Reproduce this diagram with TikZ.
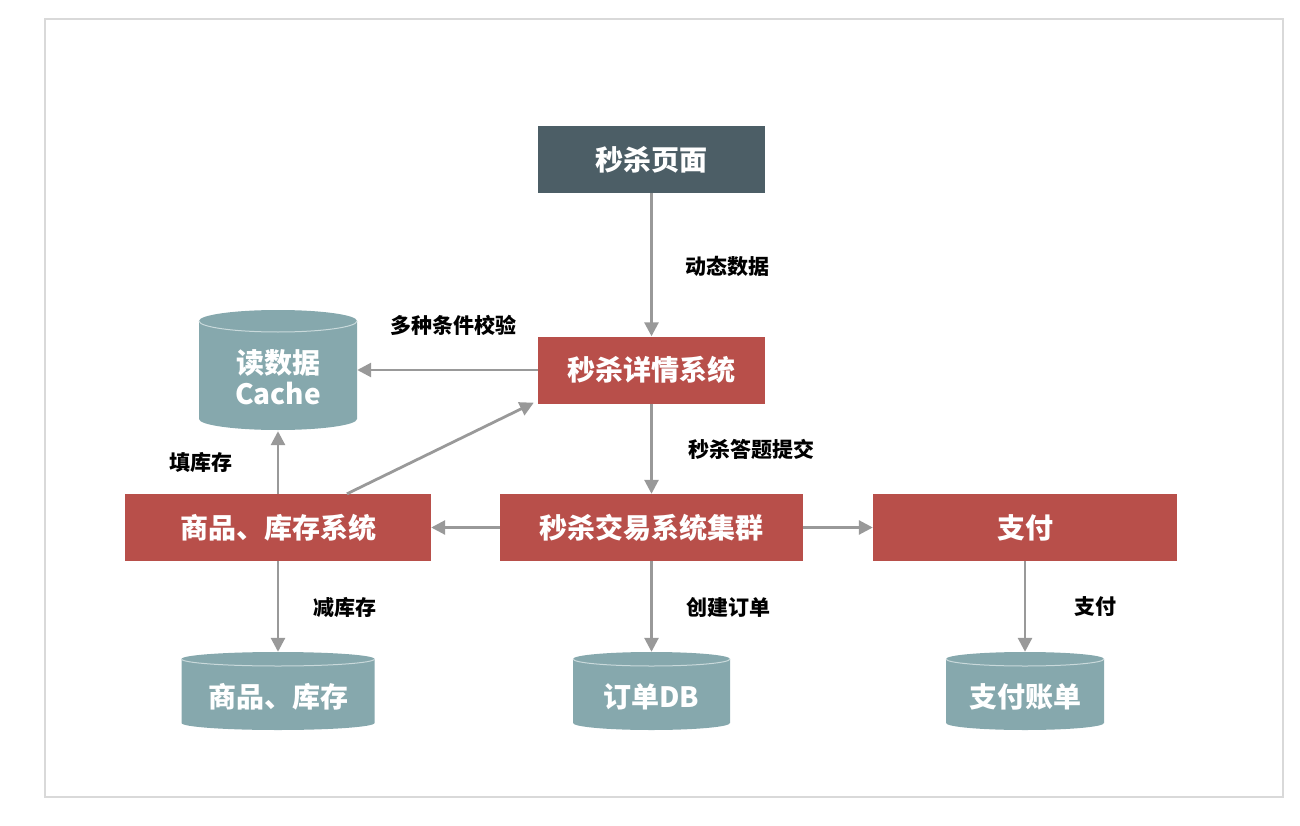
\documentclass[tikz,border=0pt]{standalone}
\usepackage{fontspec}
\setmainfont{Noto Sans CJK SC}
\usetikzlibrary{arrows.meta,calc}
\definecolor{redbox}{HTML}{B84F4A}
\definecolor{darkbox}{HTML}{4C5E66}
\definecolor{dbfill}{HTML}{86A8AD}
\definecolor{dbrim}{HTML}{C9D9DB}
\definecolor{arrowgray}{HTML}{999999}
\definecolor{framegray}{HTML}{D9D9D9}
\tikzset{
  sysbox/.style={fill=redbox, draw=none, text=white, font=\fontsize{28}{31}\selectfont\bfseries, minimum width=304pt, minimum height=67pt, inner sep=0pt},
  pagebox/.style={sysbox, fill=darkbox, minimum width=227pt},
  dbshape/.style={draw=none, minimum width=#1pt, inner sep=0pt},
  dbtext/.style={text=white, font=\fontsize{28}{31}\selectfont\bfseries, align=center, inner sep=0pt},
  lab/.style={text=black, font=\fontsize{21}{24}\selectfont\bfseries, inner sep=0pt},
  conn/.style={draw=arrowgray, line width=2.8pt, -{Triangle[length=14pt,width=14pt]}},
}
% name, cx, cy, w, h, ry, text-shift, text
\newcommand\mydbcyl[8]{%
  \fill[dbfill] ({#2-#4/2},{#3-#5/2+#6}) -- ({#2-#4/2},{#3+#5/2-#6})
     arc[start angle=180,end angle=0,x radius={#4/2},y radius=#6]
     -- ({#2+#4/2},{#3-#5/2+#6})
     arc[start angle=0,end angle=-180,x radius={#4/2},y radius=#6] -- cycle;
  \draw[dbrim, line width=1pt] ({#2-#4/2},{#3-#5/2+#6})
     arc[start angle=180,end angle=0,x radius={#4/2},y radius=#6];
  \node[dbshape=#4, minimum height=#5pt] (#1) at (#2,#3) {};
  \node[dbtext] (#1-t) at ([yshift=-#7pt]#1.center) {#8};
}
\begin{document}
\begin{tikzpicture}[x=1pt,y=-1pt]
\useasboundingbox (0,0) rectangle (1300,826);
\draw[framegray, line width=1.5pt] (45,19) rectangle (1283,797);

\node[pagebox] (page) at (651.5,159.5) {秒杀页面};
\node[sysbox, minimum width=227pt] (detail) at (651.5,370) {秒杀详情系统};
\node[sysbox, minimum width=306pt] (goods) at (278,527.5) {商品、库存系统};
\node[sysbox, minimum width=303pt] (trade) at (651.5,527.5) {秒杀交易系统集群};
\node[sysbox, minimum width=304pt] (pay) at (1025,527.5) {支付};

\mydbcyl{cache}{278}{370}{158}{120}{11}{7}{读数据\\Cache}
\mydbcyl{stock}{278}{691}{193}{78}{7}{6}{商品、库存}
\mydbcyl{orderdb}{651.5}{691}{157}{78}{7}{6}{订单DB}
\mydbcyl{bill}{1025}{691}{158}{78}{7}{6}{支付账单}

\draw[conn] (page.south) -- (detail.north);
\draw[conn] (detail.west) -- (cache.east);
\draw[conn] ([xshift=69pt]goods.north) -- ([xshift=-4pt,yshift=1pt]detail.south west);
\draw[conn] (goods.north) -- ([yshift=-1pt]cache.south);
\draw[conn] (detail.south) -- (trade.north);
\draw[conn] (trade.west) -- (goods.east);
\draw[conn] (trade.east) -- (pay.west);
\draw[conn] (goods.south) -- (stock.north);
\draw[conn] (trade.south) -- (orderdb.north);
\draw[conn] (pay.south) -- (bill.north);

\node[lab] (l1) at (727,266) {动态数据};
\node[lab] (l2) at (453,325) {多种条件校验};
\node[lab] (l3) at (201,462) {填库存};
\node[lab] (l4) at (751,449) {秒杀答题提交};
\node[lab] (l5) at (345,607) {减库存};
\node[lab] (l6) at (728,607) {创建订单};
\node[lab] (l7) at (1095,607) {支付};
\end{tikzpicture}
\end{document}
